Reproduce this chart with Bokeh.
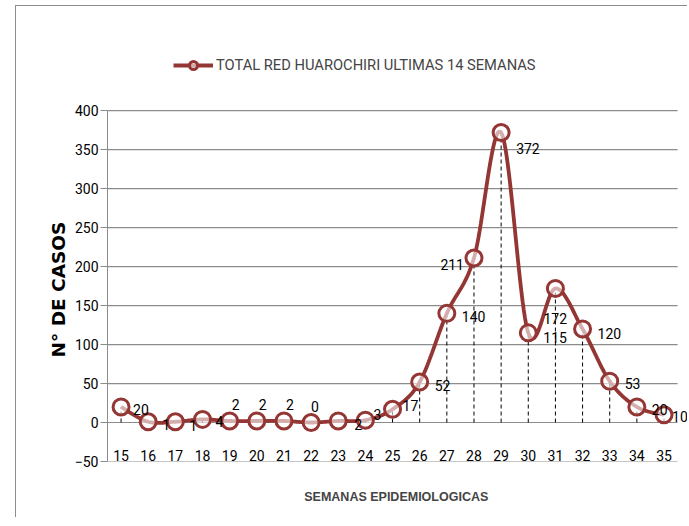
import numpy as np
from bokeh.plotting import figure
from bokeh.models import FixedTicker, Legend, LegendItem, ColumnDataSource, Range1d, Title
from bokeh.core.properties import value
from bokeh.embed import file_html
from bokeh.resources import INLINE

# ---- data ----
weeks = [15, 16, 17, 18, 19, 20, 21, 22, 23, 24, 25, 26, 27, 28, 29, 30, 31, 32, 33, 34, 35]
cases = [20, 1, 1, 4, 2, 2, 2, 0, 2, 3, 17, 52, 140, 211, 372, 115, 172, 120, 53, 20, 10]
y_ticks = [-50, 0, 50, 100, 150, 200, 250, 300, 350, 400]
series_name = "TOTAL RED HUAROCHIRI ULTIMAS 14 SEMANAS"
x_title = "SEMANAS  EPIDEMIOLOGICAS"
y_title = "N°  DE  CASOS"

# ---- label placement (style, pixels) ----
label_dx = [12, 14, 14, 13, 2, 2, 2, 0, 16, 8, 10, 15, 15, -10, 15, 15, -12, 15, 15, 15, 8]
label_dy = [3, 3, 4, 2, -16, -16, -16, -16, 4, -6, -4, 4, 3, 6, 16, 5, 30, 5, 2, 3, 2]
label_right = [False] * 13 + [True] + [False] * 7

RED = "#943634"
GRID = "#8c8c8c"
FONT = "Roboto"


def smooth(xs, ys, n=24):
    xs = np.asarray(xs, float)
    ys = np.asarray(ys, float)
    m = len(xs)
    ox, oy = [], []
    for i in range(m - 1):
        i0, i3 = max(i - 1, 0), min(i + 2, m - 1)
        p0 = np.array([xs[i0], ys[i0]])
        p1 = np.array([xs[i], ys[i]])
        p2 = np.array([xs[i + 1], ys[i + 1]])
        p3 = np.array([xs[i3], ys[i3]])
        c1 = p1 + (p2 - p0) / 6.0
        c2 = p2 - (p3 - p1) / 6.0
        t = np.linspace(0, 1, n, endpoint=(i == m - 2))
        b = ((1 - t) ** 3)[:, None] * p1 + (3 * (1 - t) ** 2 * t)[:, None] * c1 \
            + (3 * (1 - t) * t ** 2)[:, None] * c2 + (t ** 3)[:, None] * p2
        ox.extend(b[:, 0])
        oy.extend(b[:, 1])
    return ox, oy


# layout: value axis 350 px for 450 units; category 27.1 px per week
x_lo, x_hi = weeks[0] - 0.5, weeks[-1] + 0.5
top_extra_px = 71
y_end = 400 + top_extra_px * 450 / 350
frame_w = 580
x_end = x_lo + frame_w / 27.1

p = figure(width=672, height=512, output_backend="svg", toolbar_location=None,
           x_range=Range1d(x_lo, x_end), y_range=Range1d(-50, y_end),
           min_border_left=91, min_border_right=0, min_border_top=33,
           min_border_bottom=57)
p.styles = {"margin-left": "15px", "margin-top": "5px",
            "border-left": "1px solid #8c8c8c", "border-top": "1px solid #8c8c8c"}
p.outline_line_color = None
p.background_fill_color = "white"
p.border_fill_color = "white"

# grid (drawn by hand so it stops at the last category)
p.xgrid.grid_line_color = None
p.ygrid.grid_line_color = None
p.segment(x0=[x_lo] * len(y_ticks), y0=y_ticks, x1=[x_hi] * len(y_ticks), y1=y_ticks,
          line_color=GRID, line_width=1.2)

# y axis
p.yaxis.ticker = FixedTicker(ticks=y_ticks)
p.yaxis.bounds = (-50, 400)
p.yaxis.axis_line_color = GRID
p.yaxis.major_tick_line_color = GRID
p.yaxis.major_tick_out = 7
p.yaxis.major_tick_in = 0
p.yaxis.minor_tick_line_color = None
p.yaxis.major_label_text_font = FONT
p.yaxis.major_label_text_font_size = "14px"
p.yaxis.major_label_text_color = "black"
p.yaxis.major_label_standoff = 2

ytitle = Title(text=y_title, align="left", offset=104, standoff=5,
               text_font="DejaVu Sans", text_font_style="bold", text_font_size="18.5px",
               text_color="black")
p.add_layout(ytitle, "left")

# x axis
p.xaxis.ticker = FixedTicker(ticks=weeks)
p.xaxis.axis_line_color = None
p.xaxis.major_tick_line_color = None
p.xaxis.minor_tick_line_color = None
p.xaxis.major_label_text_font = FONT
p.xaxis.major_label_text_font_size = "14px"
p.xaxis.major_label_text_color = "black"
p.xaxis.major_label_standoff = -18
p.xaxis.axis_label = x_title
p.xaxis.axis_label_text_font = "Liberation Sans"
p.xaxis.axis_label_text_font_style = "bold"
p.xaxis.axis_label_text_font_size = "12.5px"
p.xaxis.axis_label_standoff = 26

# drop lines
src = ColumnDataSource(dict(x=weeks, y=cases, zero=[0] * len(weeks)))
p.segment(x0="x", y0="zero", x1="x", y1="y", source=src,
          line_color="black", line_width=1, line_dash="4 3")

# smoothed line
sx, sy = smooth(weeks, cases)
line_r = p.line(sx, sy, line_color=RED, line_width=3.8)
circ_r = p.scatter("x", "y", source=src, marker="circle", size=16,
                   line_color=RED, line_width=3, fill_color="white", fill_alpha=0.6)

# data labels
idx_l = [i for i, r in enumerate(label_right) if not r]
idx_r = [i for i, r in enumerate(label_right) if r]
for idx, align in ((idx_l, "left"), (idx_r, "right")):
    s = ColumnDataSource(dict(x=[weeks[i] for i in idx], y=[cases[i] for i in idx],
                              lab=[str(cases[i]) for i in idx],
                              dx=[label_dx[i] for i in idx], dy=[label_dy[i] for i in idx]))
    p.text(x="x", y="y", text="lab", x_offset="dx", y_offset="dy", source=s,
           text_font=value(FONT), text_font_size="14px", text_color="black",
           text_align=align, text_baseline="middle")

legend = Legend(items=[LegendItem(label=series_name, renderers=[line_r, circ_r])],
                location=(66, 386), orientation="horizontal")
legend.glyph_width = 40
legend.glyph_height = 20
legend.padding = 0
legend.margin = 0
legend.label_standoff = 3
legend.border_line_color = None
legend.background_fill_alpha = 0
legend.label_text_font = FONT
legend.label_text_font_size = "14.7px"
p.add_layout(legend, "center")

open("out.html", "w").write(file_html(p, INLINE))
